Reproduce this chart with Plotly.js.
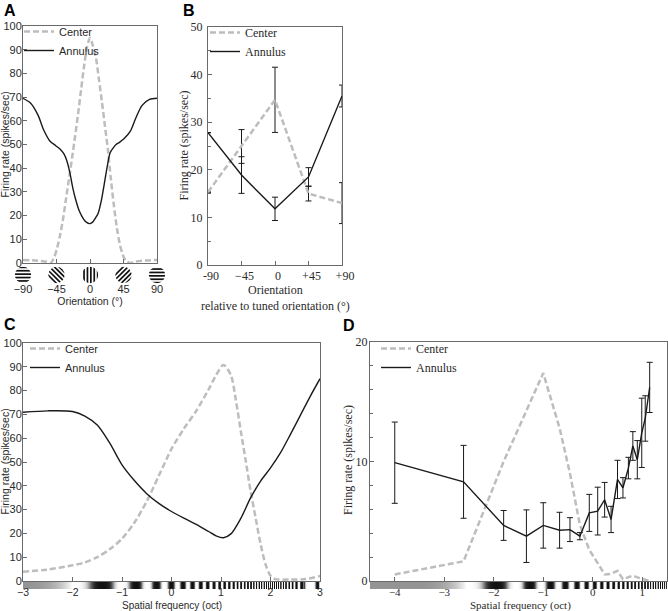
<!DOCTYPE html>
<html><head><meta charset="utf-8">
<script src="https://cdn.plot.ly/plotly-3.0.1.min.js"></script>
<style>html,body{margin:0;padding:0;background:#fff}#chart{width:668px;height:611px}</style>
</head><body><div id="chart"></div>
<script>
// ---------- Panel A: orientation tuning (model curves) ----------
const A_centerX = [-90,-70,-58,-53,-48,-44,-40,-36,-32,-28,-24,-20,-16,-12,-8,-4,0,4,8,12,16,20,24,28,32,36,40,44,48,54,60,70,90];
const A_center  = [1.3,1.0,0.5,0.0,2.5,6.5,12,19,27.5,36,44.5,53.5,63,73,83,91,95,91.5,86.5,77.5,68,58,48,35.5,24.5,15,8,3.5,1,0,0.5,1.0,1.3];
const A_annulusX = [-90,-80,-70,-62,-54,-46,-40,-35,-31,-27,-23,-19,-15,-11,-7,-4,-2,0,2,4,7,11,15,19,23,27,31,35,40,46,54,62,70,80,90];
const A_annulus  = [69.5,67.5,62.5,56,51.5,49.5,48,46,43,38,31.5,26.5,22.5,19.8,17.8,17.0,16.7,16.6,16.9,17.4,18.8,21,26,33,40.5,46.5,48.5,50,51,52.5,55.5,61.5,66.5,69,69.5];
const A_tickVals = [-90,-45,0,45,90];
const A_tickText = ['\u221290','\u221245','0','45','90'];

// ---------- Panel B: orientation relative to tuned orientation ----------
const B_x = [-90,-45,0,45,90];
const B_tickText = ['-90','\u221245','0','+45','+90'];
const B_center = [15.3,24.9,34.7,15.0,13.0];
const B_centerErr = [null,3.55,6.85,1.55,4.3];
const B_annulus = [27.8,18.9,11.8,18.5,35.5];
const B_annulusErr = [null,3.85,2.45,1.95,2.3];

// ---------- Panel C: spatial frequency (model curves) ----------
const C_centerX = [-3,-2.5,-2,-1.75,-1.5,-1.25,-1,-0.75,-0.5,-0.25,0,0.25,0.5,0.75,0.9,1.05,1.2,1.3,1.4,1.5,1.6,1.7,1.8,1.9,2.0,2.1,2.4,2.7,3];
const C_center  = [3.9,4.8,6.6,7.8,10,13.3,17.8,24.5,33.5,44.5,55.5,64,71.5,80.5,86.5,90.8,86.5,76,63,50.5,37.5,26.5,15.5,7,2.2,0.8,0.6,0.8,2.1];
const C_annulusX = [-3,-2.5,-2,-1.75,-1.5,-1.25,-1,-0.75,-0.5,-0.25,0,0.25,0.5,0.75,0.9,1.05,1.2,1.4,1.6,1.8,2,2.2,2.4,2.6,2.8,3];
const C_annulus  = [70.9,71.5,71.2,69.3,65.5,58,48.8,42.2,36.7,32.5,29.2,26.4,23.8,20.8,19,18.2,19.8,26.3,35,42,47.5,53.8,61.5,69.5,77.5,85];
const C_tickVals = [-3,-2,-1,0,1,2,3];
const C_tickText = ['\u22123','\u22122','\u22121','0','1','2','3'];

// ---------- Panel D: spatial frequency (measured) ----------
const D_x = [-4.0,-2.61,-1.80,-1.34,-1.0,-0.67,-0.46,-0.26,-0.07,0.10,0.24,0.37,0.50,0.61,0.72,0.81,0.90,0.99,1.06,1.15];
const D_annulus = [9.9,8.3,4.65,3.75,4.65,4.25,4.3,3.75,5.7,5.85,6.8,5.15,8.5,7.8,9.45,11.3,10.15,12.4,13.6,16.2];
const D_annulusErr = [3.4,3.05,1.25,2.2,1.9,1.5,1.0,0.3,1.55,2.0,1.45,1.1,1.6,0.85,0.9,1.2,1.6,2.9,1.9,2.1];
const D_center = [0.55,1.65,10.0,14.3,17.4,12.8,9.0,4.7,2.6,1.5,0.55,0.6,0.85,0.15,0.3,0.45,0.3,0.2,0.1,0.0];
const D_tickVals = [-4,-3,-2,-1,0,1];
const D_tickText = ['\u22124','\u22123','\u22122','\u22121','0','1'];

// ---------- styling helpers ----------
const W = 668, H = 611;
const dx = (a,b) => [a/W, b/W];
const dy = (top,bottom) => [1-bottom/H, 1-top/H];
const SANS = 'Liberation Sans, Arial, sans-serif';
const SERIF = 'Liberation Serif, Times New Roman, serif';
const GRAY = '#bdbdbd', BLACK = '#1a1a1a', FRAME = '#6a6a6a', TXT = '#2a2a2a';

const domA = dx(23,157), rangeA = [-90,90];

// stimulus grating strip (illustration of a grating sweeping in spatial frequency)
function gratingLum(u){
  const p = 4.17*Math.pow(2.5,u) - 0.667;
  if (p < 0){ const t = Math.max(0, 1 + p/0.4); return 0.55 + 0.45*t*t; }
  const c = Math.cos(2*Math.PI*p);
  return 0.5 + 0.5*Math.tanh(1.8*c)/Math.tanh(1.8);
}
function strip(lo, hi, shift){
  const n = 1800, xs = [], zs = [];
  for (let i=0;i<n;i++){ const x = lo + (hi-lo)*(i+0.5)/n; xs.push(x); zs.push(gratingLum(x+shift)); }
  return {xs, zs};
}
const sC = strip(-3,3,0), sD = strip(-4.5,1.5,0.55);

function iconSrc(angle){
  let stripes = '';
  for (let k=-10;k<30;k+=4) stripes += `<rect x="${k}" y="-10" width="2" height="40" fill="#111"/>`;
  const svg = `<svg xmlns="http://www.w3.org/2000/svg" width="40" height="40" viewBox="0 0 20 20"><defs><clipPath id="c"><circle cx="10" cy="10" r="9.6"/></clipPath></defs><g clip-path="url(#c)"><rect x="0" y="0" width="20" height="20" fill="#fff"/><g transform="rotate(${angle} 10 10)">${stripes}</g></g></svg>`;
  return 'data:image/svg+xml;charset=utf-8,' + encodeURIComponent(svg);
}
// place icon under tick value v of panel A's x axis (paper coords from axis domain/range)
const iconX = v => domA[0] + (v - rangeA[0])/(rangeA[1]-rangeA[0])*(domA[1]-domA[0]);

const dashLine = (w) => ({color: GRAY, width: w, dash: '6px,3px'});
const errStyle = (arr) => ({type:'data', array: arr, visible: true, color: BLACK, thickness: 1, width: 3});

const traces = [
  // A
  {x: A_centerX, y: A_center, xaxis:'x', yaxis:'y', name:'Center', legend:'legend', mode:'lines', line: Object.assign(dashLine(2.5), {shape:'spline', smoothing:0.8})},
  {x: A_annulusX, y: A_annulus, xaxis:'x', yaxis:'y', name:'Annulus', legend:'legend', mode:'lines', line:{color:BLACK, width:1.4, shape:'spline', smoothing:0.8}},
  // B
  {x: B_x, y: B_center, xaxis:'x2', yaxis:'y2', name:'Center', legend:'legend2', mode:'lines', line: dashLine(2.5), error_y: errStyle(B_centerErr)},
  {x: B_x, y: B_annulus, xaxis:'x2', yaxis:'y2', name:'Annulus', legend:'legend2', mode:'lines', line:{color:BLACK, width:1.4}, error_y: errStyle(B_annulusErr)},
  // C
  {x: C_centerX, y: C_center, xaxis:'x3', yaxis:'y3', name:'Center', legend:'legend3', mode:'lines', line: Object.assign(dashLine(2.5), {shape:'spline', smoothing:0.8})},
  {x: C_annulusX, y: C_annulus, xaxis:'x3', yaxis:'y3', name:'Annulus', legend:'legend3', mode:'lines', line:{color:BLACK, width:1.4, shape:'spline', smoothing:0.8}},
  // D
  {x: D_x, y: D_center, xaxis:'x4', yaxis:'y4', name:'Center', legend:'legend4', mode:'lines', line: dashLine(2.5)},
  {x: D_x, y: D_annulus, xaxis:'x4', yaxis:'y4', name:'Annulus', legend:'legend4', mode:'lines', line:{color:BLACK, width:1.4}, error_y: errStyle(D_annulusErr)},
  // grating strips
  {type:'heatmap', x: sC.xs, y:[0], z:[sC.zs], xaxis:'x5', yaxis:'y5', zmin:0, zmax:1, colorscale:[[0,'#111'],[1,'#fff']], showscale:false, hoverinfo:'skip', showlegend:false},
  {type:'heatmap', x: sD.xs, y:[0], z:[sD.zs], xaxis:'x6', yaxis:'y6', zmin:0, zmax:1, colorscale:[[0,'#111'],[1,'#fff']], showscale:false, hoverinfo:'skip', showlegend:false}
];

const baseAx = (font) => ({showline:true, linecolor:FRAME, linewidth:1, mirror:true, ticks:'inside', ticklen:4, tickcolor:FRAME, zeroline:false, showgrid:false, fixedrange:true, tickfont:{family:font, size: font===SANS?11:12, color:TXT}});

const layout = {
  width: W, height: H, margin:{l:0,r:0,t:0,b:0}, paper_bgcolor:'#fff', plot_bgcolor:'rgba(0,0,0,0)',
  showlegend: true,
  xaxis: Object.assign(baseAx(SANS), {anchor:'y', domain: domA, range: rangeA, tickvals:A_tickVals, ticktext:A_tickText, ticklabelstandoff: 16,
    title:{text:'Orientation (\u00b0)', font:{family:SANS, size:10.5, color:TXT}, standoff: 2}}),
  yaxis: Object.assign(baseAx(SANS), {anchor:'x', domain: dy(26,263), range:[0,100], tickvals:[0,10,20,30,40,50,60,70,80,90,100], ticklabelstandoff:-2}),
  xaxis2: Object.assign(baseAx(SERIF), {anchor:'y2', domain: dx(208,342), range:[-90,90], tickvals:B_x, ticktext:B_tickText, ticklabelshift:3}),
  yaxis2: Object.assign(baseAx(SERIF), {anchor:'x2', domain: dy(27,265), range:[0,50], tickvals:[0,10,20,30,40,50], ticklabelstandoff:2, minor:{tickvals:[5,15,25,35,45], ticks:'inside', ticklen:3, tickcolor:FRAME}}),
  xaxis3: Object.assign(baseAx(SANS), {anchor:'y3', domain: dx(23,320), range:[-3,3], tickvals:C_tickVals, showticklabels:false}),
  yaxis3: Object.assign(baseAx(SANS), {anchor:'x3', domain: dy(343,581), range:[0,100], tickvals:[0,10,20,30,40,50,60,70,80,90,100], ticklabelstandoff:-2}),
  xaxis4: Object.assign(baseAx(SERIF), {anchor:'y4', domain: dx(370,667), range:[-4.5,1.5], tickvals:D_tickVals, showticklabels:false}),
  yaxis4: Object.assign(baseAx(SERIF), {anchor:'x4', domain: dy(342,581), range:[0,20], tickvals:[0,10,20], ticklabelstandoff:-1, minor:{tickvals:[2,4,6,8,12,14,16,18], ticks:'inside', ticklen:3, tickcolor:FRAME}}),
  xaxis5: {anchor:'y5', domain: dx(23,320), range:[-3,3], showline:false, showgrid:false, zeroline:false, ticks:'', tickvals:C_tickVals, ticktext:C_tickText, ticklabelstandoff:-5,
    tickfont:{family:SANS, size:10.5, color:TXT}, fixedrange:true},
  yaxis5: {anchor:'x5', domain: dy(582,589), range:[-0.5,0.5], visible:false, fixedrange:true},
  xaxis6: {anchor:'y6', domain: dx(370,667), range:[-4.5,1.5], showline:false, showgrid:false, zeroline:false, ticks:'', tickvals:D_tickVals, ticktext:D_tickText, ticklabelstandoff:-5,
    tickfont:{family:SERIF, size:11, color:TXT}, fixedrange:true},
  yaxis6: {anchor:'x6', domain: dy(582,589), range:[-0.5,0.5], visible:false, fixedrange:true},
  legend:  {x:19/W,  y:1-17/H,  xanchor:'left', yanchor:'top', bgcolor:'rgba(0,0,0,0)', font:{family:SANS, size:11, color:TXT}, itemwidth:30},
  legend2: {x:205/W, y:1-18/H,  xanchor:'left', yanchor:'top', bgcolor:'rgba(0,0,0,0)', font:{family:SERIF, size:12, color:TXT}, itemwidth:30},
  legend3: {x:25/W,  y:1-334/H, xanchor:'left', yanchor:'top', bgcolor:'rgba(0,0,0,0)', font:{family:SANS, size:11, color:TXT}, itemwidth:30},
  legend4: {x:376/W, y:1-334/H, xanchor:'left', yanchor:'top', bgcolor:'rgba(0,0,0,0)', font:{family:SERIF, size:12, color:TXT}, itemwidth:30},
  images: A_tickVals.map(v => ({source: iconSrc(v), xref:'paper', yref:'paper', x: iconX(v), y:1-275/H, sizex:17/W, sizey:17/H, xanchor:'center', yanchor:'middle', sizing:'contain', layer:'above'})),
  annotations: [
    {text:'<b>A</b>', x:2/W, y:1-11/H, xref:'paper', yref:'paper', xanchor:'left', yanchor:'middle', showarrow:false, font:{family:SANS, size:16, color:'#000'}},
    {text:'<b>B</b>', x:181/W, y:1-11/H, xref:'paper', yref:'paper', xanchor:'left', yanchor:'middle', showarrow:false, font:{family:SANS, size:16, color:'#000'}},
    {text:'<b>C</b>', x:2/W, y:1-324/H, xref:'paper', yref:'paper', xanchor:'left', yanchor:'middle', showarrow:false, font:{family:SANS, size:16, color:'#000'}},
    {text:'<b>D</b>', x:341/W, y:1-325/H, xref:'paper', yref:'paper', xanchor:'left', yanchor:'middle', showarrow:false, font:{family:SANS, size:16, color:'#000'}},
    {text:'Firing rate (spikes/sec)', textangle:-90, x:4.5/W, y:1-145/H, xref:'paper', yref:'paper', xanchor:'center', yanchor:'middle', showarrow:false, font:{family:SANS, size:10.5, color:TXT}},
    {text:'Firing rate (spikes/sec)', textangle:-90, x:183.5/W, y:1-146/H, xref:'paper', yref:'paper', xanchor:'center', yanchor:'middle', showarrow:false, font:{family:SERIF, size:12, color:TXT}},
    {text:'Firing rate (spikes/sec)', textangle:-90, x:4.5/W, y:1-462/H, xref:'paper', yref:'paper', xanchor:'center', yanchor:'middle', showarrow:false, font:{family:SANS, size:10.5, color:TXT}},
    {text:'Firing rate (spikes/sec)', textangle:-90, x:348/W, y:1-460/H, xref:'paper', yref:'paper', xanchor:'center', yanchor:'middle', showarrow:false, font:{family:SERIF, size:12, color:TXT}},
    {text:'Orientation<br>relative to tuned orientation (\u00b0)', x:275/W, y:1-297.5/H, xref:'paper', yref:'paper', xanchor:'center', yanchor:'middle', showarrow:false, font:{family:SERIF, size:12, color:TXT}},
    {text:'Spatial frequency (oct)', x:171.5/W, y:1-605.5/H, xref:'paper', yref:'paper', xanchor:'center', yanchor:'middle', showarrow:false, font:{family:SANS, size:10, color:TXT}},
    {text:'Spatial frequency (oct)', x:520/W, y:1-605.5/H, xref:'paper', yref:'paper', xanchor:'center', yanchor:'middle', showarrow:false, font:{family:SERIF, size:11, color:TXT}}
  ]
};

Plotly.newPlot('chart', traces, layout, {displayModeBar:false, staticPlot:true});
</script></body></html>
